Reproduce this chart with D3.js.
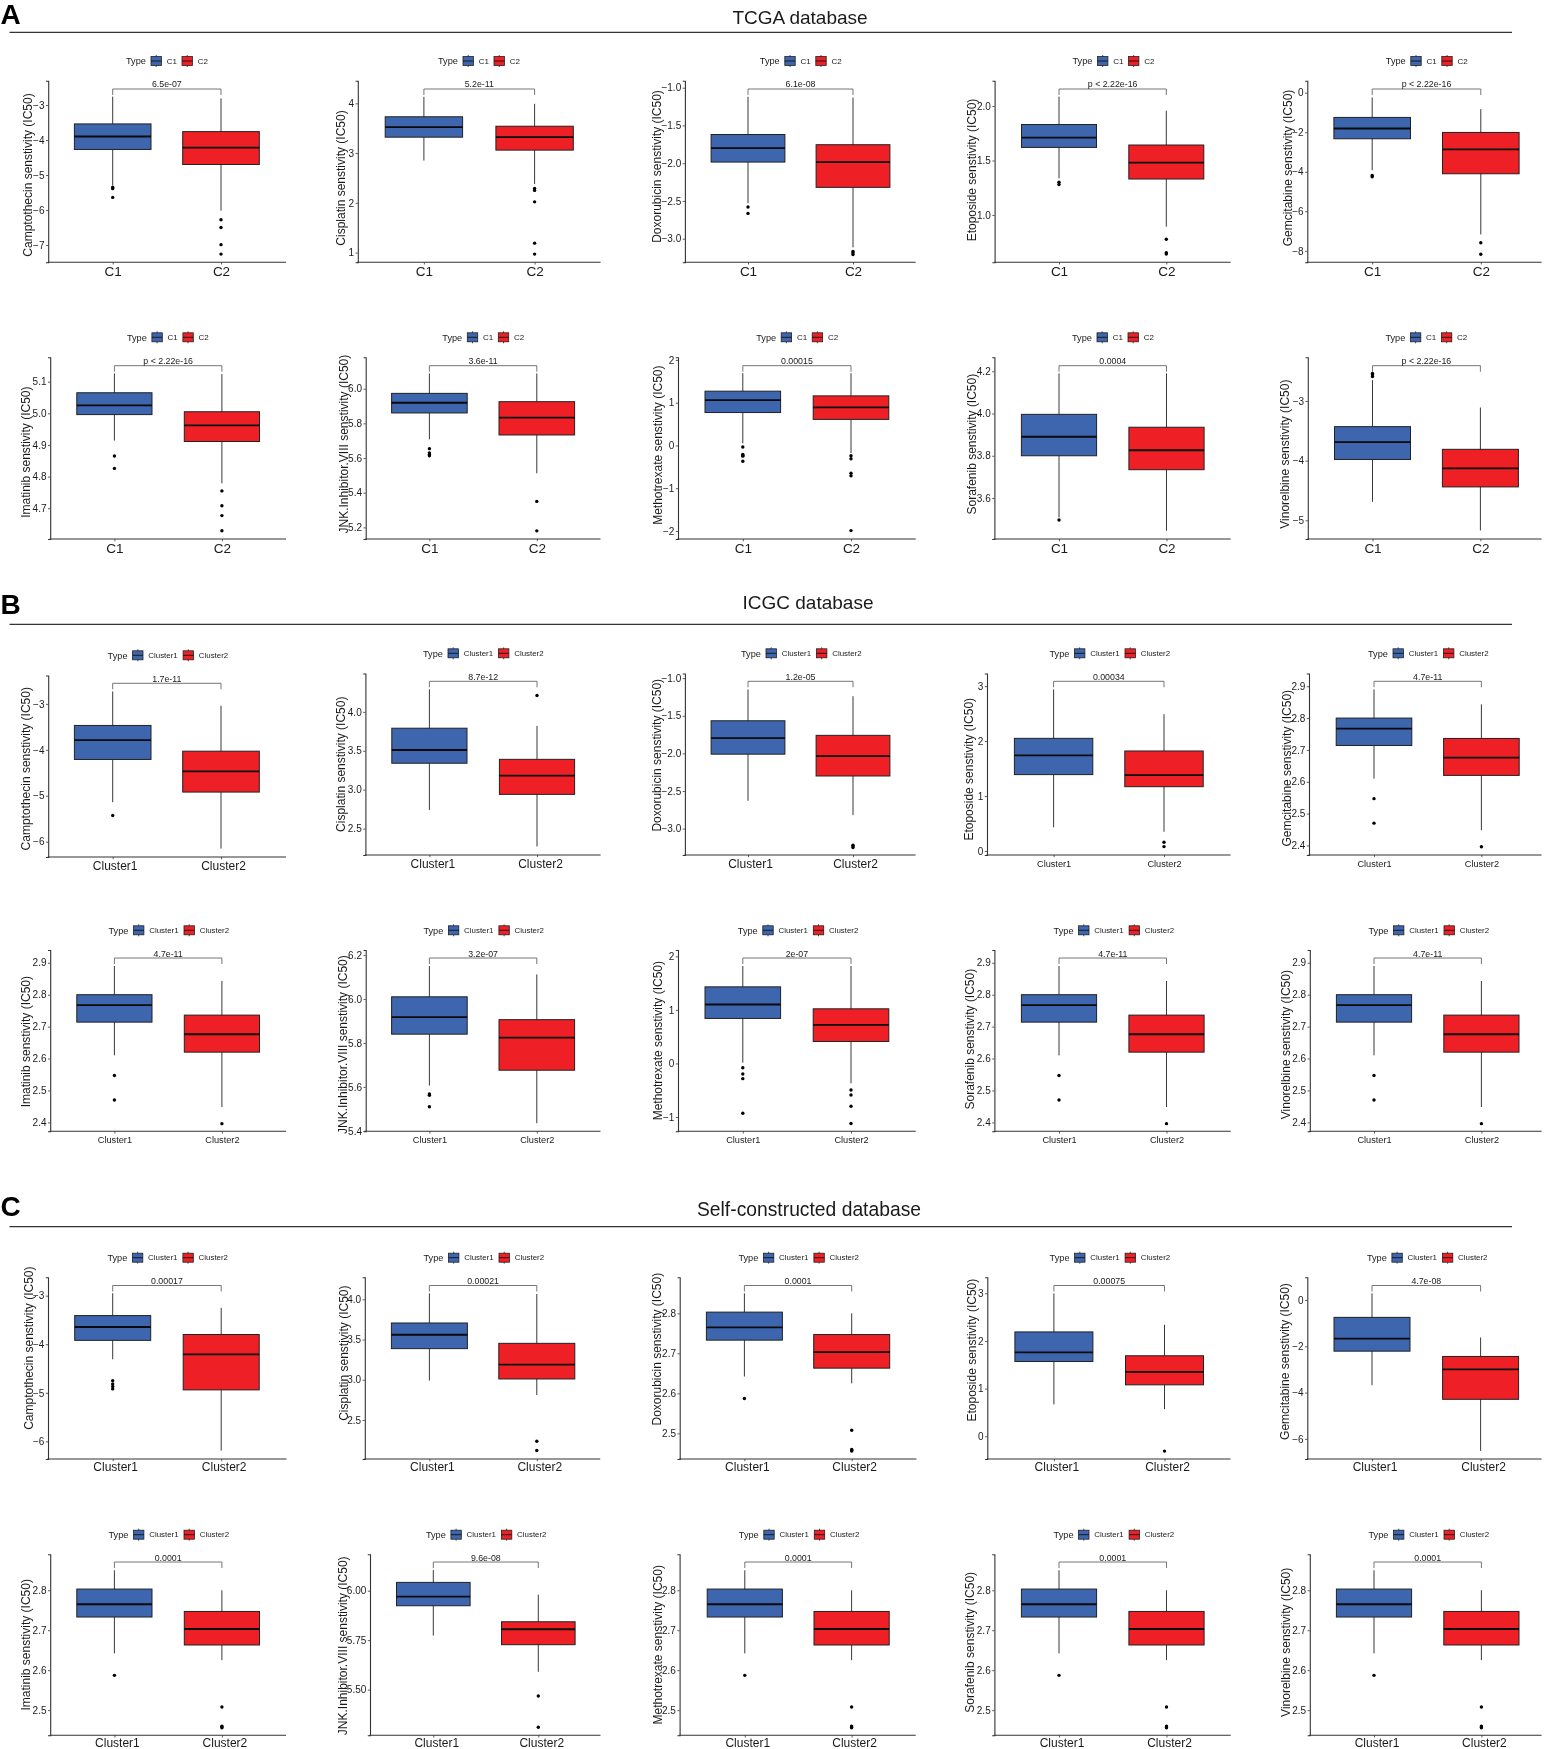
<!DOCTYPE html>
<html><head><meta charset="utf-8">
<script src="https://cdn.jsdelivr.net/npm/d3@7/dist/d3.min.js"></script>
<style>html,body{margin:0;padding:0;background:#fff}svg{display:block;filter:blur(0.3px)}text{font-family:"Liberation Sans",Arial,sans-serif;fill:#1a1a1a}</style>
</head><body><svg id="c" width="1545" height="1749"></svg>
<script>
// ---------- content ----------
const sectionLetters = ["A","B","C"];
const sectionTitles = ["TCGA database","ICGC database","Self-constructed database"];
const drugs = ["Camptothecin","Cisplatin","Doxorubicin","Etoposide","Gemcitabine","Imatinib","JNK.Inhibitor.VIII","Methotrexate","Sorafenib","Vinorelbine"];
const catsC = ["C1","C2"];
const catsCluster = ["Cluster1","Cluster2"];
const pValuesA = ["6.5e-07","5.2e-11","6.1e-08","p < 2.22e-16","p < 2.22e-16","p < 2.22e-16","3.6e-11","0.00015","0.0004","p < 2.22e-16"];
const pValuesB = ["1.7e-11","8.7e-12","1.2e-05","0.00034","4.7e-11","4.7e-11","3.2e-07","2e-07","4.7e-11","4.7e-11"];
const pValuesC = ["0.00017","0.00021","0.0001","0.00075","4.7e-08","0.0001","9.6e-08","0.0001","0.0001","0.0001"];

// box stats: [lower whisker, q1, median, q3, upper whisker, ...outliers]
const statsA = [
 [[-5.29,-4.27,-3.90,-3.54,-2.76,-5.35,-5.39,-5.64],[-6.02,-4.70,-4.22,-3.76,-2.81,-6.28,-6.50,-6.99,-7.26]],
 [[2.85,3.32,3.52,3.73,4.13],[2.38,3.06,3.32,3.54,3.99,2.29,2.25,2.02,1.19,0.97]],
 [[-2.53,-1.985,-1.80,-1.62,-1.12,-2.58,-2.665],[-3.115,-2.32,-1.985,-1.755,-1.13,-3.17,-3.185,-3.21]],
 [[1.336,1.62,1.71,1.83,2.086,1.30,1.28],[0.893,1.33,1.48,1.642,1.957,0.777,0.654,0.642]],
 [[-3.92,-2.33,-1.81,-1.25,-0.24,-4.19,-4.25],[-7.17,-4.10,-2.87,-2.01,-0.83,-7.59,-8.17]],
 [[4.914,4.996,5.025,5.065,5.126,4.865,4.826],[4.779,4.911,4.962,5.005,5.124,4.755,4.708,4.677,4.629]],
 [[5.708,5.86,5.919,5.973,6.088,5.654,5.63,5.62,5.613],[5.512,5.733,5.833,5.925,6.088,5.35,5.18]],
 [[0.05,0.77,1.06,1.27,1.69,-0.035,-0.21,-0.23,-0.25,-0.37],[-0.18,0.61,0.89,1.16,1.69,-0.24,-0.31,-0.65,-0.71,-1.99]],
 [[3.508,3.80,3.89,3.996,4.19,3.496],[3.445,3.734,3.826,3.935,4.19]],
 [[-4.69,-3.98,-3.69,-3.43,-2.65,-2.54,-2.56,-2.59],[-5.17,-4.44,-4.13,-3.81,-3.11]]
];
const icgcShared = [[2.61,2.714,2.767,2.80,2.89,2.547,2.47],[2.448,2.62,2.676,2.736,2.843,2.396]];
const statsB = [
 [[-5.14,-4.21,-3.79,-3.47,-2.73,-5.43],[-6.15,-4.92,-4.47,-4.03,-3.04]],
 [[2.74,3.34,3.51,3.79,4.29],[2.27,2.94,3.18,3.39,3.82,4.21]],
 [[-2.63,-2.01,-1.796,-1.566,-1.15],[-2.82,-2.30,-2.035,-1.76,-1.24,-3.22,-3.23,-3.25]],
 [[0.43,1.39,1.74,2.05,2.94],[0.35,1.17,1.38,1.82,2.49,0.16,0.08]],
 icgcShared, icgcShared,
 [[5.606,5.84,5.918,6.01,6.15,5.568,5.562,5.51],[5.435,5.676,5.824,5.906,6.112]],
 [[0.015,0.84,1.10,1.43,1.82,-0.08,-0.197,-0.284,-0.93],[-0.37,0.41,0.72,1.02,1.82,-0.495,-0.59,-0.80,-1.12]],
 icgcShared, icgcShared
];
const selfShared = [[2.642,2.733,2.765,2.803,2.85,2.587],[2.625,2.663,2.703,2.747,2.80,2.508,2.46,2.458,2.456]];
const statsC = [
 [[-4.31,-3.92,-3.645,-3.41,-2.95,-4.75,-4.82,-4.87,-4.92],[-6.19,-4.94,-4.21,-3.80,-3.25]],
 [[2.99,3.387,3.56,3.706,4.075],[2.81,3.01,3.188,3.453,4.066,2.235,2.12]],
 selfShared,
 [[0.67,1.57,1.76,2.19,3.0],[0.57,1.08,1.35,1.69,2.34,-0.31]],
 [[-3.68,-2.21,-1.67,-0.75,0.29],[-6.52,-4.29,-3.0,-2.44,-1.62]],
 selfShared,
 [[5.773,5.924,5.97,6.042,6.104],[5.59,5.727,5.805,5.843,5.98,5.468,5.31]],
 selfShared, selfShared, selfShared
];
// y domains [bottom, top]
const domainsA = [[-7.495,-2.305],[0.805,4.455],[-3.313,-0.907],[0.566,2.232],[-8.58,0.608],[4.603,5.177],[5.133,6.181],[-2.187,2.062],[3.406,4.266],[-5.313,-2.268]];
const domainsB = [[-6.333,-2.383],[2.161,4.493],[-3.35,-0.938],[-0.073,3.23],[2.37,2.94],[2.372,2.94],[5.398,6.223],[-1.267,2.118],[2.372,2.94],[2.372,2.94]];
const domainsC = [[-6.363,-2.622],[2.015,4.274],[2.436,2.89],[-0.476,3.336],[-6.869,0.981],[2.437,2.89],[5.269,6.184],[2.437,2.89],[2.437,2.89],[2.437,2.89]];
// tick values and their decimals
const ticksA = [[-3,-4,-5,-6,-7],[1,2,3,4],[-1,-1.5,-2,-2.5,-3],[1,1.5,2],[0,-2,-4,-6,-8],[4.7,4.8,4.9,5,5.1],[5.2,5.4,5.6,5.8,6],[-2,-1,0,1,2],[3.6,3.8,4,4.2],[-3,-4,-5]];
const ticksB = [[-3,-4,-5,-6],[2.5,3,3.5,4],[-1,-1.5,-2,-2.5,-3],[0,1,2,3],[2.4,2.5,2.6,2.7,2.8,2.9],[2.4,2.5,2.6,2.7,2.8,2.9],[5.4,5.6,5.8,6,6.2],[-1,0,1,2],[2.4,2.5,2.6,2.7,2.8,2.9],[2.4,2.5,2.6,2.7,2.8,2.9]];
const ticksC = [[-3,-4,-5,-6],[2.5,3,3.5,4],[2.5,2.6,2.7,2.8],[0,1,2,3],[0,-2,-4,-6],[2.5,2.6,2.7,2.8],[5.5,5.75,6],[2.5,2.6,2.7,2.8],[2.5,2.6,2.7,2.8],[2.5,2.6,2.7,2.8]];
const decimalsA = [0,0,1,1,0,1,1,0,1,0];
const decimalsB = [0,1,1,0,1,1,1,0,1,1];
const decimalsC = [0,1,1,0,0,1,2,1,1,1];

// ---------- layout (pixels only) ----------
const rows = [
 {top:80.7,bottom:262.3,bracket:89,label:84.3,legend:61,xlab:271.7},
 {top:357.3,bottom:539,bracket:365.7,label:361,legend:337.3,xlab:548},
 {top:673.5,bottom:855,bracket:681.3,label:677,legend:653.3,xlab:864},
 {top:950,bottom:1131.3,bracket:958,label:953.7,legend:930.3,xlab:1139.7},
 {top:1277.3,bottom:1459,bracket:1285.5,label:1280.7,legend:1257.7,xlab:1466.7},
 {top:1554.3,bottom:1735.3,bracket:1562,label:1557.7,legend:1534.7,xlab:1742.6}
];
// x0,x1,c1,c2,half,legendX,titleDx,titleDy,xFont,xOff,dy
const geom = [
 [[48.2,286,112.7,221,38.3,126,-20.5,3.5,13.5,0,0],[357.8,600.6,423.9,534.6,38.7,438,-16.6,6.5,13.5,0,0],[684.9,915.6,748,853,36.9,759.8,-27.7,-5,13.5,0,0],[994.6,1230.6,1059,1166.3,37.5,1072.5,-23,-1.5,13.5,0,0],[1307.3,1541.6,1372.2,1480.8,38.3,1385.8,-20,-3.5,13.5,0,0]],
 [[50.2,286,114.4,221.9,37.6,126.9,-24,4,13.5,0,0],[365.7,600.5,429.4,536.8,37.8,442.3,-22.4,-4,13.5,0,0],[678,915.7,742.8,851,37.8,756.2,-20.3,-3,13.5,0,0],[994.4,1230.7,1059,1166.5,37.6,1072,-22.4,-4,13.5,0,0],[1307.8,1541.6,1372.5,1480.4,38,1385.4,-22.8,6,13.5,0,0]],
 [[48.2,286,112.7,221,38.3,107.6,-22.5,2.5,12,2,2],[365.4,600.6,429.4,537,37.6,423,-25,0,12,3,0],[684.9,915.6,748,853,36.9,741,-28,-9,12,2,0],[987,1230.6,1053.6,1164,39.2,1049.5,-18,5,9.2,0,0],[1309,1541.6,1374,1481.4,37.8,1368,-22.3,4,9.2,0,0]],
 [[50.2,286,114.4,221.9,37.6,108.5,-24,1,9.2,0,0],[365.7,600.5,429.4,536.8,37.8,423.4,-22.7,4,9.2,0,0],[678,915.7,742.8,851,37.8,737.8,-20.3,0,9.2,0,0],[994.4,1230.7,1059,1166.5,37.6,1053.6,-24.4,-1.5,9.2,0,0],[1309.8,1541.6,1374,1481.4,37.6,1368.5,-24.4,4,9.2,0,0]],
 [[48,286.5,112.7,221.2,38,107.4,-19.5,-20,12,2.5,0],[364.8,600.2,429.4,536.8,38,423.5,-20.8,-15,12,2.5,0],[679.7,916.4,744.4,851.7,38,738.4,-22.7,-19,12,2.5,0],[987.3,1230.4,1053.9,1164.5,39,1049.6,-15.3,-18,12,2.5,0],[1307.3,1541.6,1372,1480.6,38,1366.9,-22.3,-6.6,12,2.5,0]],
 [[50.2,286,114.4,221.9,37.6,108.5,-24,0,12,2.5,0],[370,600.5,433.3,538.3,36.8,425.9,-27,1,12,3,0],[679.6,915.7,744.8,851.6,37.6,738.8,-22,0,12,2.5,0],[994.4,1230.7,1059,1166.5,37.6,1053.6,-24.4,-2.5,12,2.5,0],[1309.8,1541.6,1374,1481.4,37.6,1368.5,-24.4,-2.5,12,2.5,0]]
];
const headers = [
 {letterY:24,ruleY:32.3,titleY:17,titleX:800,titleSize:19},
 {letterY:614,ruleY:624.3,titleY:602.5,titleX:808,titleSize:19},
 {letterY:1216,ruleY:1226.7,titleY:1209.5,titleX:809,titleSize:19.3}
];
const fills = ["#3d66ae","#ee2026"];
const ink = "#222";

// ---------- drawing ----------
const svg = d3.select("#c");
sectionLetters.forEach((L,i)=>{
  const h = headers[i];
  svg.append("text").attr("x",0.5).attr("y",h.letterY).attr("font-size",28).attr("font-weight","bold").style("fill","#000").text(L);
  svg.append("line").attr("x1",9.5).attr("x2",1512).attr("y1",h.ruleY).attr("y2",h.ruleY).attr("stroke","#333").attr("stroke-width",1.3);
  svg.append("text").attr("x",h.titleX).attr("y",h.titleY).attr("dy",".35em").attr("text-anchor","middle").attr("font-size",h.titleSize).text(sectionTitles[i]);
});

const sets = [
 {stats:statsA,dom:domainsA,tk:ticksA,dec:decimalsA,p:pValuesA,cats:catsC,rows:[0,1]},
 {stats:statsB,dom:domainsB,tk:ticksB,dec:decimalsB,p:pValuesB,cats:catsCluster,rows:[2,3]},
 {stats:statsC,dom:domainsC,tk:ticksC,dec:decimalsC,p:pValuesC,cats:catsCluster,rows:[4,5]}
];

function panel(set,idx,rowIdx,colIdx){
  const R = rows[rowIdx], g = geom[rowIdx][colIdx];
  const [x0,x1,c1,c2,half,legX,tDx,tDy,xFont,xOff,dy] = g;
  const top=R.top+dy, bottom=R.bottom+dy;
  const y = d3.scaleLinear().domain(set.dom[idx]).range([bottom,top]);
  const x = d3.scalePoint().domain(set.cats).range([c1,c2]);
  const color = d3.scaleOrdinal().domain(set.cats).range(fills);
  const G = svg.append("g");
  const drug = drugs[idx];

  // axes
  const ya = G.append("g").attr("transform",`translate(${x0},0)`)
    .call(d3.axisLeft(y).tickValues(set.tk[idx]).tickFormat(d3.format(`.${set.dec[idx]}f`)).tickSizeOuter(0).tickSize(2.2).tickPadding(1.5));
  ya.selectAll("text").attr("font-size",10).attr("font-family",null);
  ya.select(".domain").attr("stroke","#333").attr("stroke-width",1.1);
  ya.selectAll(".tick line").attr("stroke","#333").attr("stroke-width",0.8);
  const xa = G.append("g").attr("transform",`translate(0,${bottom})`)
    .call(d3.axisBottom(x).tickSizeOuter(0).tickSize(2.2).tickPadding(0));
  xa.select(".domain").remove();
  xa.selectAll(".tick line").attr("stroke","#333").attr("stroke-width",0.8);
  xa.selectAll("text").attr("font-size",xFont).attr("font-family",null)
    .attr("x",xOff).attr("y",R.xlab+dy-bottom).attr("dy",".35em");
  G.append("line").attr("x1",x0-0.5).attr("x2",x1).attr("y1",bottom).attr("y2",bottom).attr("stroke","#333").attr("stroke-width",1.1);

  // y title
  G.append("text").attr("transform",`translate(${x0+tDx},${(top+bottom)/2+tDy}) rotate(-90)`)
    .attr("text-anchor","middle").attr("dy",".35em").attr("font-size",12)
    .text(`${drug} senstivity (IC50)`);

  // boxes
  set.cats.forEach((cat,k)=>{
    const s = set.stats[idx][k];
    const [lo,q1,med,q3,hi] = s, out = s.slice(5), cx = x(cat);
    G.append("line").attr("x1",cx).attr("x2",cx).attr("y1",y(lo)).attr("y2",y(hi)).attr("stroke",ink).attr("stroke-width",0.9);
    G.append("rect").attr("x",cx-half).attr("width",2*half).attr("y",y(q3)).attr("height",y(q1)-y(q3))
      .attr("fill",color(cat)).attr("stroke",ink).attr("stroke-width",1);
    G.append("line").attr("x1",cx-half).attr("x2",cx+half).attr("y1",y(med)).attr("y2",y(med)).attr("stroke","#0a0a0a").attr("stroke-width",1.8);
    G.selectAll(null).data(out).join("circle").attr("cx",cx).attr("cy",d=>y(d)).attr("r",1.7).attr("fill","#000");
  });

  // bracket
  const by=R.bracket+dy;
  G.append("path").attr("d",d3.line()([[c1,by+6],[c1,by],[c2,by],[c2,by+6]])).attr("fill","none").attr("stroke","#666").attr("stroke-width",0.9);
  G.append("text").attr("x",(c1+c2)/2).attr("y",R.label+dy).attr("dy",".35em").attr("text-anchor","middle").attr("font-size",8.8).text(set.p[idx]);

  // legend
  const ly=R.legend+dy, cluster=set.cats[0].length>2;
  const L=G.append("g");
  L.append("text").attr("x",legX).attr("y",ly).attr("dy",".35em").attr("font-size",9.2).text("Type");
  set.cats.forEach((cat,k)=>{
    const kx = legX + 25 + k*(cluster?50.5:31);
    L.append("line").attr("x1",kx+5.2).attr("x2",kx+5.2).attr("y1",ly-6).attr("y2",ly+6).attr("stroke",ink).attr("stroke-width",0.8);
    L.append("rect").attr("x",kx).attr("y",ly-4.5).attr("width",10.4).attr("height",9).attr("fill",fills[k]).attr("stroke",ink).attr("stroke-width",0.8);
    L.append("line").attr("x1",kx).attr("x2",kx+10.4).attr("y1",ly).attr("y2",ly).attr("stroke","#111").attr("stroke-width",0.9);
    L.append("text").attr("x",kx+15.7).attr("y",ly).attr("dy",".35em").attr("font-size",cluster?7.9:8).text(cat);
  });
}
sets.forEach(set=>{
  set.rows.forEach((r,ri)=>{
    for(let c=0;c<5;c++) panel(set,ri*5+c,r,c);
  });
});
</script></body></html>
